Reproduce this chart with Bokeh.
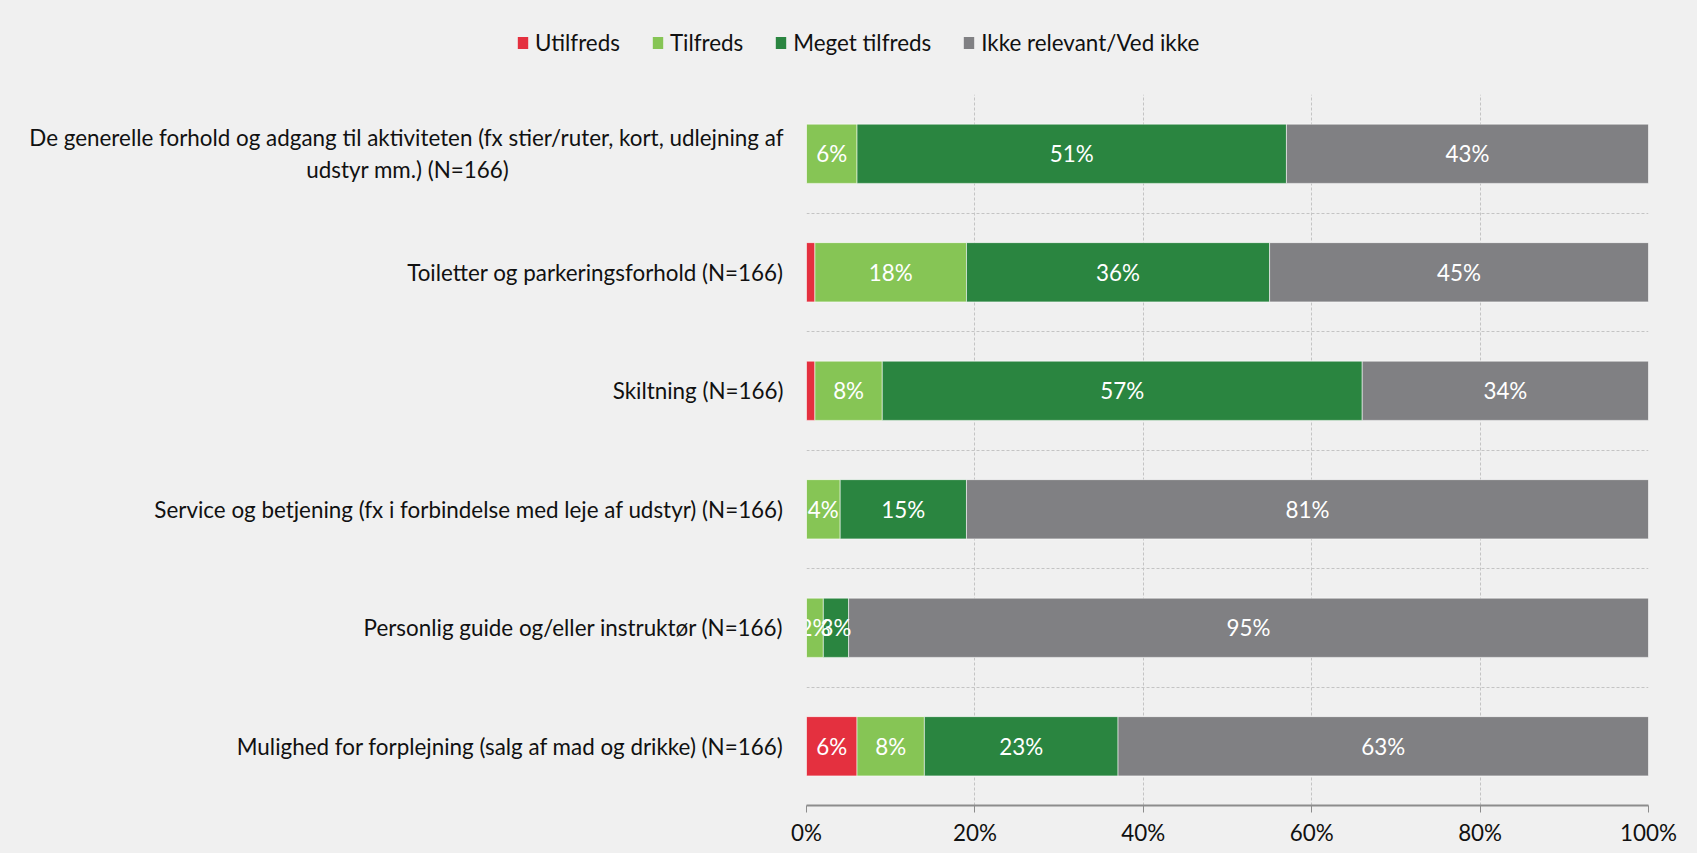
from bokeh.plotting import figure
from bokeh.layouts import column
from bokeh.models import (ColumnDataSource, Range1d, FixedTicker, Grid, Legend, LegendItem,
                          PrintfTickFormatter)
from bokeh.core.properties import value
from bokeh.embed import file_html
from bokeh.resources import INLINE

PAD = "\u2003" * 16 + "\u2005"
categories = [
    "De generelle forhold og adgang til aktiviteten (fx stier/ruter, kort, udlejning af\nudstyr mm.) (N=166)" + PAD,
    "Toiletter og parkeringsforhold (N=166)",
    "Skiltning (N=166)",
    "Service og betjening (fx i forbindelse med leje af udstyr) (N=166)",
    "Personlig guide og/eller instruktør (N=166)",
    "Mulighed for forplejning (salg af mad og drikke) (N=166)",
]
series_names = ["Utilfreds", "Tilfreds", "Meget tilfreds", "Ikke relevant/Ved ikke"]
utilfreds = [0, 1, 1, 0, 0, 6]
tilfreds = [6, 18, 8, 4, 2, 8]
meget_tilfreds = [51, 36, 57, 15, 3, 23]
ikke_relevant = [43, 45, 34, 81, 95, 63]
x_ticks = [0, 20, 40, 60, 80, 100]

colors = ["#E4303F", "#86C555", "#2A8540", "#808083"]
FONT = "Lato"
FS = "22.4px"
BG = "#F0F0F0"
W = 1697

n = len(categories)
ypos = [n - i - 0.5 for i in range(n)]

# ---- legend strip ----
lg = figure(width=W, height=90, output_backend="svg", toolbar_location=None,
            x_range=Range1d(0, 1), y_range=Range1d(0, 1),
            frame_width=W, frame_height=90, min_border=0,
            x_axis_location=None, y_axis_location=None)
lg.background_fill_color = BG
lg.border_fill_color = BG
lg.outline_line_color = None
lg.grid.visible = False
dummies = []
for col in colors:
    dummies.append(lg.hbar(y=[-10], left=[0], right=[1], height=1, fill_color=col, line_color=None))
legend = Legend(items=[LegendItem(label=nm, renderers=[r]) for nm, r in zip(series_names, dummies)],
                orientation="horizontal", location=(516, 34),
                glyph_width=13, glyph_height=15, label_standoff=6, spacing=31,
                padding=0, margin=0, border_line_color=None, background_fill_alpha=0,
                label_text_font=FONT, label_text_font_size=FS, label_text_color="#111111")
lg.add_layout(legend, "center")

# ---- main chart ----
p = figure(width=W, height=763, output_backend="svg", toolbar_location=None,
           x_range=Range1d(0, 100), y_range=Range1d(0, n),
           frame_width=842, frame_height=711,
           min_border_left=806, min_border_right=49, min_border_top=4, min_border_bottom=48)
p.background_fill_color = BG
p.border_fill_color = BG
p.outline_line_color = None

all_series = [utilfreds, tilfreds, meget_tilfreds, ikke_relevant]
left = [0] * n
lab_x, lab_y, lab_t = [], [], []
for name, vals, col in zip(series_names, all_series, colors):
    right = [l + v for l, v in zip(left, vals)]
    src = ColumnDataSource(dict(y=ypos, left=left, right=right))
    p.hbar(y="y", left="left", right="right", height=0.5, source=src,
           fill_color=col, line_color="white", line_alpha=0.55, line_width=1)
    for l, v, yy in zip(left, vals, ypos):
        if v >= 2:
            lab_x.append(l + v / 2)
            lab_y.append(yy)
            lab_t.append(f"{v}%")
    left = right

p.text(x=lab_x, y=lab_y, text=lab_t, text_align="center", text_baseline="middle",
       text_color="white", text_font=value(FONT), text_font_size=FS)

# grids
p.xgrid.ticker = FixedTicker(ticks=x_ticks)
p.xgrid.grid_line_color = "#C4C4C4"
p.xgrid.grid_line_dash = "3 2"
p.ygrid.grid_line_color = None
hgrid = Grid(dimension=1, ticker=FixedTicker(ticks=list(range(n + 1))),
             grid_line_color="#C4C4C4", grid_line_dash="3 2")
p.add_layout(hgrid)

# x axis
xa = p.xaxis[0]
xa.ticker = FixedTicker(ticks=x_ticks)
xa.formatter = PrintfTickFormatter(format="%d%%")
xa.axis_line_color = "#8C8C8C"
xa.axis_line_width = 2
xa.major_tick_line_color = "#8C8C8C"
xa.major_tick_out = 7
xa.major_tick_in = 0
xa.minor_tick_line_color = None
xa.major_label_text_font = FONT
xa.major_label_text_font_size = FS
xa.major_label_text_color = "#111111"
xa.major_label_standoff = 6

# y axis
ya = p.yaxis[0]
ya.ticker = FixedTicker(ticks=ypos)
ya.major_label_overrides = {yy: c for yy, c in zip(ypos, categories)}
ya.axis_line_color = None
ya.major_tick_line_color = None
ya.minor_tick_line_color = None
ya.major_label_text_font = FONT
ya.major_label_text_font_size = FS
ya.major_label_text_color = "#111111"
ya.major_label_standoff = 17

layout = column(lg, p, spacing=0, styles={"background-color": BG})
open("out.html", "w").write(file_html(layout, INLINE))
